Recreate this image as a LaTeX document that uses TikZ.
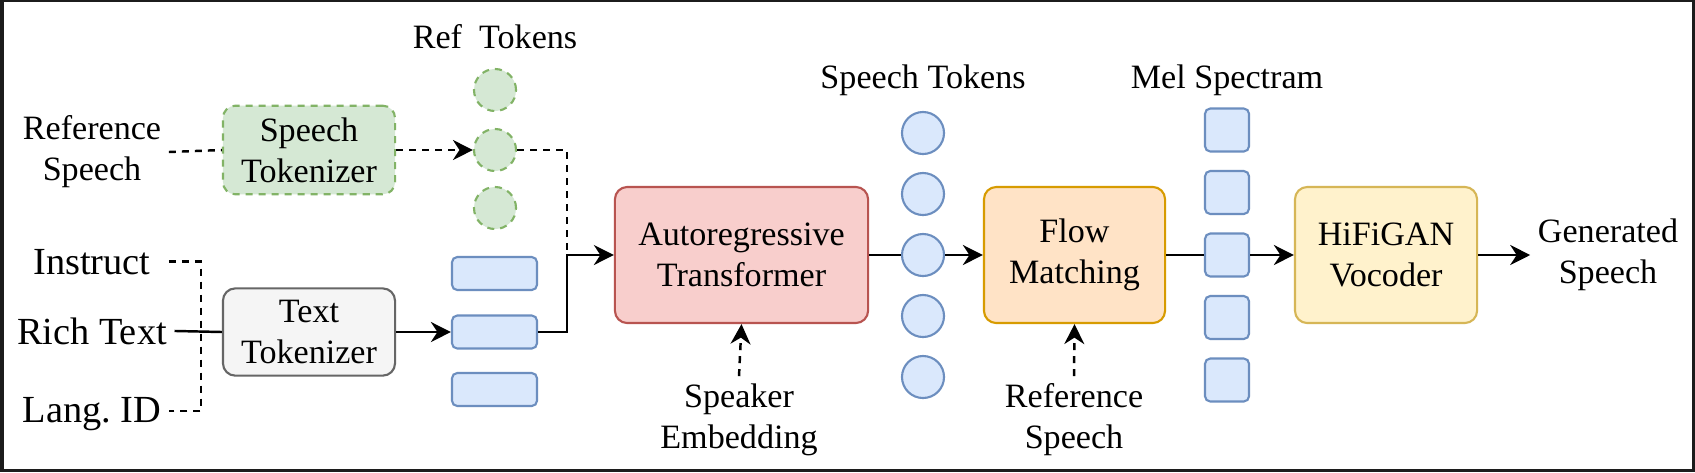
\documentclass[tikz,border=0pt]{standalone}
\usepackage{fontspec}
\setmainfont{Liberation Serif}
\usetikzlibrary{arrows.meta}

\definecolor{frame}{HTML}{1C1C1C}
\definecolor{grnfill}{HTML}{D5E8D4}
\definecolor{grnline}{HTML}{82B366}
\definecolor{gryfill}{HTML}{F5F5F5}
\definecolor{gryline}{HTML}{666666}
\definecolor{blufill}{HTML}{DAE8FC}
\definecolor{bluline}{HTML}{6C8EBF}
\definecolor{redfill}{HTML}{F8CECC}
\definecolor{redline}{HTML}{B85450}
\definecolor{orgfill}{HTML}{FFE3C6}
\definecolor{orgline}{HTML}{D79B00}
\definecolor{ylwfill}{HTML}{FFF2CC}
\definecolor{ylwline}{HTML}{D6B656}

\begin{document}
\begin{tikzpicture}[x=0.01cm,y=-0.01cm,
  lbl/.style={font=\fontsize{9.7pt}{11.7pt}\selectfont, align=center, inner sep=2pt},
  side/.style={font=\fontsize{10.9pt}{13pt}\selectfont, inner sep=2pt, anchor=mid},
  blk/.style={draw, rounded corners=3.5pt, line width=0.6pt, align=center,
    font=\fontsize{9.7pt}{11.7pt}\selectfont, minimum height=1.36cm},
  tokc/.style={draw, circle, line width=0.6pt, minimum size=0.42cm, inner sep=0pt},
  tokr/.style={draw, rounded corners=1.5pt, line width=0.6pt, inner sep=0pt},
  conn/.style={line width=0.7pt},
  dashline/.style={line width=0.7pt, dash pattern=on 2pt off 1.7pt},
  tip/.style={-{Stealth[length=2mm,width=2mm]}}]

% background and frame
\path[fill=frame] (0,0) rectangle (1695,472);
\path[fill=white] (3.5,1.5) rectangle (1691.5,469);

% inputs
\node[lbl] (refsp) at (92,152) {Reference\\Speech};
\node[side] (instr) at (92,266) {Instruct};
\node[side] (rich) at (92,336) {Rich Text};
\node[side] (lang) at (92,414) {Lang.\ ID};

% tokenizers
\node[blk, dash pattern=on 2pt off 1.7pt, fill=grnfill, draw=grnline, minimum width=1.72cm, minimum height=0.86cm] (sptok) at (309,150) {Speech\\Tokenizer};
\node[blk, fill=gryfill, draw=gryline, minimum width=1.72cm, minimum height=0.86cm] (txtok) at (309,332) {Text\\Tokenizer};

% ref tokens
\node[lbl] (reftok) at (495,37) {Ref\ \ Tokens};
\node[tokc, dash pattern=on 2pt off 1.7pt, fill=grnfill, draw=grnline] (rt1) at (495,90) {};
\node[tokc, dash pattern=on 2pt off 1.7pt, fill=grnfill, draw=grnline] (rt2) at (495,150) {};
\node[tokc, dash pattern=on 2pt off 1.7pt, fill=grnfill, draw=grnline] (rt3) at (495,208) {};

% text tokens
\node[tokr, fill=blufill, draw=bluline, minimum width=0.85cm, minimum height=0.33cm] (tt1) at (494.5,273.5) {};
\node[tokr, fill=blufill, draw=bluline, minimum width=0.85cm, minimum height=0.33cm] (tt2) at (494.5,332) {};
\node[tokr, fill=blufill, draw=bluline, minimum width=0.85cm, minimum height=0.33cm] (tt3) at (494.5,389.5) {};

% main blocks
\node[blk, fill=redfill, draw=redline, minimum width=2.53cm] (ar) at (741.5,255) {Autoregressive\\Transformer};
\node[blk, fill=orgfill, draw=orgline, minimum width=1.81cm] (fm) at (1074.5,255) {Flow\\Matching};
\node[blk, fill=ylwfill, draw=ylwline, minimum width=1.82cm] (hg) at (1386,255) {HiFiGAN\\Vocoder};

% speech tokens
\node[lbl] (sptokl) at (923,80) {Speech Tokens};
\foreach \i/\y in {1/133,2/194,3/255,4/316,5/377}
  \node[tokc, fill=blufill, draw=bluline] (st\i) at (923,\y) {};

% mel spectram
\node[lbl] (mell) at (1227,80) {Mel Spectram};
\foreach \i/\y in {1/130,2/192.5,3/255,4/317.5,5/380}
  \node[tokr, fill=blufill, draw=bluline, minimum width=0.44cm, minimum height=0.43cm] (ms\i) at (1227,\y) {};

% outputs and side inputs
\node[lbl] (gen) at (1608,255) {Generated\\Speech};
\node[lbl] (spk) at (739,420) {Speaker\\Embedding};
\node[lbl] (refsp2) at (1074,420) {Reference\\Speech};

\coordinate (brtop) at (201,263);
\coordinate (brbot) at (201,411);
\coordinate (jn) at (567,255);

% connectors
\draw[dashline, shorten <=3pt] (instr.east) -- (instr.east -| brtop) -- (brbot) -- (brbot -| lang.east);
\draw[conn] (rich.east) -- (txtok.west);
\draw[dashline] (refsp.east) -- (sptok.west);
\draw[dashline, tip] (sptok.east) -- (rt2.west);
\draw[dashline] (rt2.east) -| (jn);
\draw[conn, tip] (txtok.east) -- (tt2.west);
\draw[conn, tip] (tt2.east) -| (jn) -- (ar.west);
\draw[conn] (ar.east) -- (st3.west);
\draw[conn, tip] (st3.east) -- (fm.west);
\draw[conn] (fm.east) -- (ms3.west);
\draw[conn, tip] (ms3.east) -- (hg.west);
\draw[conn, tip] (hg.east) -- (gen.west);
\draw[dashline, tip] (spk.north) -- (ar.south);
\draw[dashline, tip] (refsp2.north) -- (fm.south);
\end{tikzpicture}
\end{document}
